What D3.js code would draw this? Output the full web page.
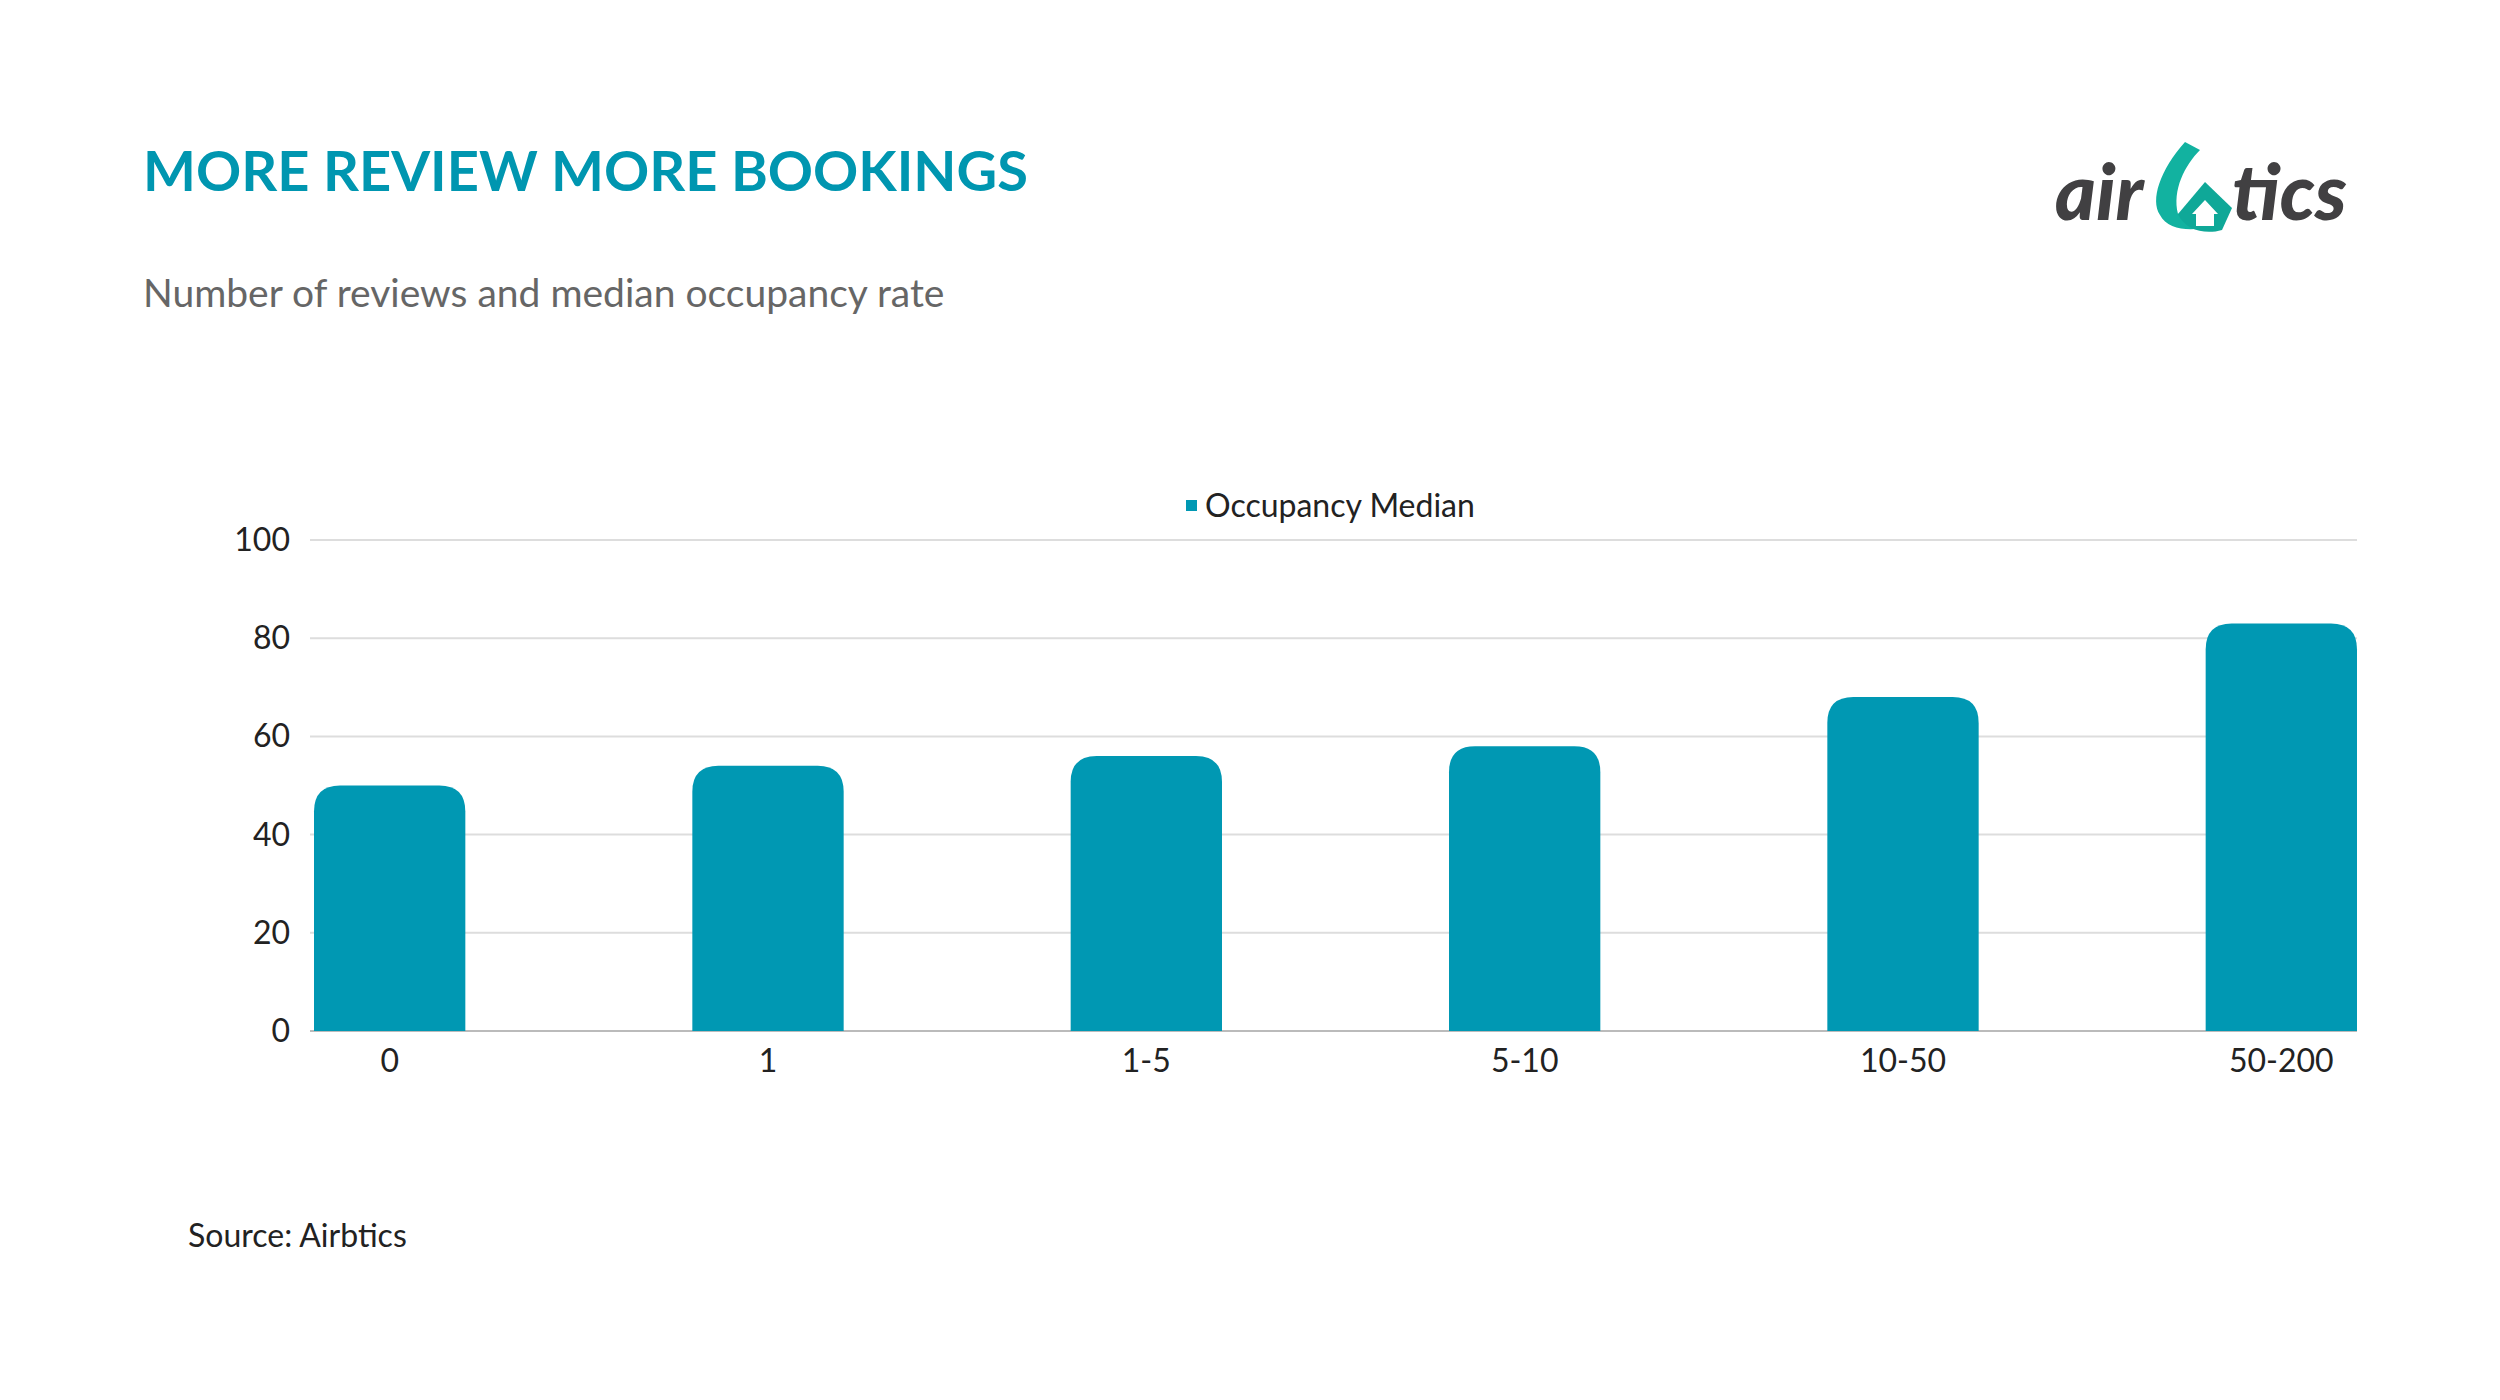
<!DOCTYPE html>
<html><head><meta charset="utf-8">
<script src="https://cdn.jsdelivr.net/npm/d3@7"></script>
<style>body{margin:0;background:#fff}svg{font-family:Lato,"Open Sans",sans-serif}</style>
</head><body><svg id="c" width="2500" height="1400"></svg>
<script>
const categories = ["0","1","1-5","5-10","10-50","50-200"];
const occupancyMedian = [50,54,56,58,68,83];
const yTicks = [0,20,40,60,80,100];
const color = "#0098B3";
const svg = d3.select("#c");
const x = d3.scaleBand().domain(categories).range([314,2357]).paddingInner(0.6).paddingOuter(0);
const y = d3.scaleLinear().domain([0,100]).range([1031,540]);

svg.append("text").attr("x",143).attr("y",191).attr("fill","#0096B0").attr("font-size",56).attr("font-weight",700).text("MORE REVIEW MORE BOOKINGS");
svg.append("text").attr("x",143).attr("y",307).attr("fill","#666").attr("font-size",39).text("Number of reviews and median occupancy rate");

svg.append("g").selectAll("line").data(yTicks).join("line")
  .attr("x1",310).attr("x2",2357).attr("y1",d=>y(d)).attr("y2",d=>y(d))
  .attr("stroke",d=>d===0?"#bbb":"#ddd").attr("stroke-width",2);
svg.append("g").selectAll("text").data(yTicks).join("text")
  .attr("x",290).attr("y",d=>y(d)+11).attr("text-anchor","end").attr("font-size",32).attr("fill","#222").text(d=>d);

const r=26;
svg.append("g").selectAll("path").data(categories).join("path")
  .attr("fill",color)
  .attr("d",(c,i)=>{const x0=x(c),w=x.bandwidth(),t=y(occupancyMedian[i]),b=y(0);
    return `M${x0},${b}V${t+r}Q${x0},${t} ${x0+r},${t}H${x0+w-r}Q${x0+w},${t} ${x0+w},${t+r}V${b}Z`;});
svg.append("g").selectAll("text").data(categories).join("text")
  .attr("x",c=>x(c)+x.bandwidth()/2).attr("y",1072).attr("text-anchor","middle").attr("font-size",32).attr("fill","#222").text(c=>c);

svg.append("rect").attr("x",1186).attr("y",500).attr("width",11).attr("height",11).attr("fill",color);
svg.append("text").attr("x",1205).attr("y",517).attr("font-size",32).attr("fill","#222").text("Occupancy Median");

svg.append("text").attr("x",188).attr("y",1247).attr("font-size",32).attr("fill","#222").text("Source: Airbtics");

const lg=svg.append("g");
lg.append("text").attr("x",2055).attr("y",220).attr("font-size",78).attr("font-weight",900).attr("font-style","italic").attr("fill","#414042").text("air");
lg.append("path").attr("fill","#12B2A0").attr("d","M2185,142 C2160,170 2150,200 2160,215 C2170,235 2210,232 2225,218 L2205,200 L2178,214 C2172,190 2185,165 2200,150 Z");
lg.append("path").attr("fill","#0FA898").attr("d","M2178,214 L2205,182 L2232,208 L2222,230 C2205,235 2185,230 2178,214 Z");
lg.append("path").attr("fill","#fff").attr("d","M2192,214 L2205,200 L2218,214 L2214,214 L2214,226 L2196,226 L2196,214 Z");
lg.append("text").attr("x",2232).attr("y",220).attr("font-size",78).attr("font-weight",900).attr("font-style","italic").attr("fill","#414042").text("tics");
</script></body></html>
